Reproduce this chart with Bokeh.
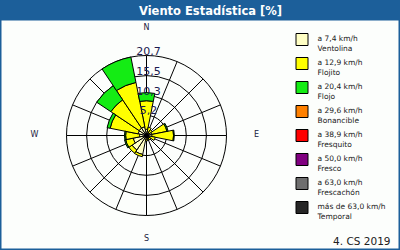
import numpy as np
from bokeh.plotting import figure
from bokeh.models import Range1d
from bokeh.core.properties import value
from bokeh.embed import file_html
from bokeh.resources import INLINE

# ---------------- data ----------------
directions = ["N", "NNE", "NE", "ENE", "E", "ESE", "SE", "SSE",
              "S", "SSW", "SW", "WSW", "W", "WNW", "NW", "NNW"]
ventolina = [1.6, 1.0, 0.8, 1.4, 1.4, 0.8, 0.8, 0.8, 1.0, 5.0, 4.5, 3.5, 1.8, 2.2, 2.3, 2.3]
flojito = [7.4, 1.2, 1.0, 4.0, 5.6, 1.5, 0.6, 0.4, 0.4, 0.6, 1.0, 2.0, 3.6, 7.4, 8.8, 11.7]
flojo = [2.1, 0.0, 0.0, 0.3, 0.2, 0.0, 0.0, 0.0, 0.0, 0.0, 0.0, 0.3, 0.3, 0.8, 4.4, 6.7]
bonancible = [0.0] * 16
fresquito = [0.0] * 16
fresco = [0.0] * 16
frescachon = [0.0] * 16
temporal = [0.0] * 16

ring_values = [5.2, 10.3, 15.5, 20.7]
ring_labels = ["5,2", "10,3", "15,5", "20,7"]
compass_labels = ["N", "E", "S", "W"]

legend_ranges = ["a 7,4 km/h", "a 12,9 km/h", "a 20,4 km/h", "a 29,6 km/h",
                 "a 38,9 km/h", "a 50,0 km/h", "a 63,0 km/h", "más de 63,0 km/h"]
legend_names = ["Ventolina", "Flojito", "Flojo", "Bonancible",
                "Fresquito", "Fresco", "Frescachón", "Temporal"]
colors = ["#ffffc4", "#ffff00", "#14ec14", "#ff8000",
          "#ff0000", "#800080", "#6e6e6e", "#262626"]

title_text = "Viento Estadística [%]"
footer_text = "4. CS 2019"

# ---------------- layout ----------------
W, H = 400, 250
def Y(top):
    return H - top

cx, cy = 146, Y(135)
R = 80.0
vmax = ring_values[-1]
k = R / vmax
blue = "#1c5f9a"

p = figure(width=W, height=H, output_backend="svg", toolbar_location=None,
           x_range=Range1d(0, W), y_range=Range1d(0, H),
           min_border=0, min_border_left=0, min_border_right=0,
           min_border_top=0, min_border_bottom=0)
p.axis.visible = False
p.grid.visible = False
p.background_fill_color = "#fcfefc"
p.border_fill_color = "#fcfefc"
p.outline_line_color = blue
p.outline_line_width = 2

# title bar
p.quad(left=0, right=W, top=H, bottom=Y(20), fill_color=blue, line_color=None)
p.text(x=[210], y=[Y(10)], text=[title_text], text_color="white",
       text_font=value("DejaVu Sans"), text_font_style="bold",
       text_font_size="11.5px", text_align="center", text_baseline="middle")

# grid: rings and spokes
p.circle(x=[cx] * 4, y=[cy] * 4, radius=[v * k for v in ring_values],
         fill_color=None, line_color="black", line_width=1)
n = len(directions)
dir_deg = np.arange(n) * 360.0 / n
math_ang = np.deg2rad(90.0 - dir_deg)
p.ray(x=[cx] * n, y=[cy] * n, length=R, angle=list(math_ang),
      line_color="black", line_width=1)

# stacked wedges
series = [ventolina, flojito, flojo, bonancible, fresquito, fresco, frescachon, temporal]
half = np.deg2rad(180.0 / n)
cum = np.zeros(n)
for vals, col in zip(series, colors):
    vals = np.array(vals, dtype=float)
    mask = vals > 0
    if mask.any():
        inner = cum[mask] * k
        outer = (cum[mask] + vals[mask]) * k
        p.annular_wedge(x=cx, y=cy, inner_radius=list(inner), outer_radius=list(outer),
                        start_angle=list(math_ang[mask] - half),
                        end_angle=list(math_ang[mask] + half),
                        fill_color=col, line_color="black", line_width=1)
    cum = cum + vals

# center hub
p.circle(x=[cx], y=[cy], radius=2, fill_color="black", line_color="black")

# ring labels
p.text(x=[cx + 2] * 4, y=[cy + v * k + 1 for v in ring_values], text=ring_labels,
       text_color="#1a1a50", text_font=value("DejaVu Sans"), text_font_size="11px",
       text_align="center", text_baseline="bottom")

# compass labels
ca = np.deg2rad([90, 0, 270, 180])
cr = [107, 110, 104, 112]
p.text(x=[cx + r * np.cos(a) for r, a in zip(cr, ca)],
       y=[cy + 1 + r * np.sin(a) for r, a in zip(cr, ca)],
       text=compass_labels, text_color="#202040", text_font=value("DejaVu Sans"),
       text_font_size="8px", text_align="center", text_baseline="middle")

# legend
m = len(legend_names)
idx = np.arange(m)
sw_top = 33 + 24 * idx
p.rect(x=[301.5] * m, y=[Y(t + 6) for t in sw_top], width=12, height=12,
       fill_color=colors, line_color="black", line_width=1)
p.text(x=[317] * m, y=[Y(t + 5) for t in sw_top], text=legend_ranges,
       text_color="#202020", text_font=value("DejaVu Sans"), text_font_size="7.5px",
       text_align="left", text_baseline="middle")
p.text(x=[317] * m, y=[Y(t + 15) for t in sw_top], text=legend_names,
       text_color="#202020", text_font=value("DejaVu Sans"), text_font_size="7.5px",
       text_align="left", text_baseline="middle")

# footer
p.text(x=[390], y=[Y(240)], text=[footer_text], text_color="#202020",
       text_font=value("DejaVu Sans"), text_font_size="10.5px",
       text_align="right", text_baseline="middle")

open("out.html", "w").write(file_html(p, INLINE))
